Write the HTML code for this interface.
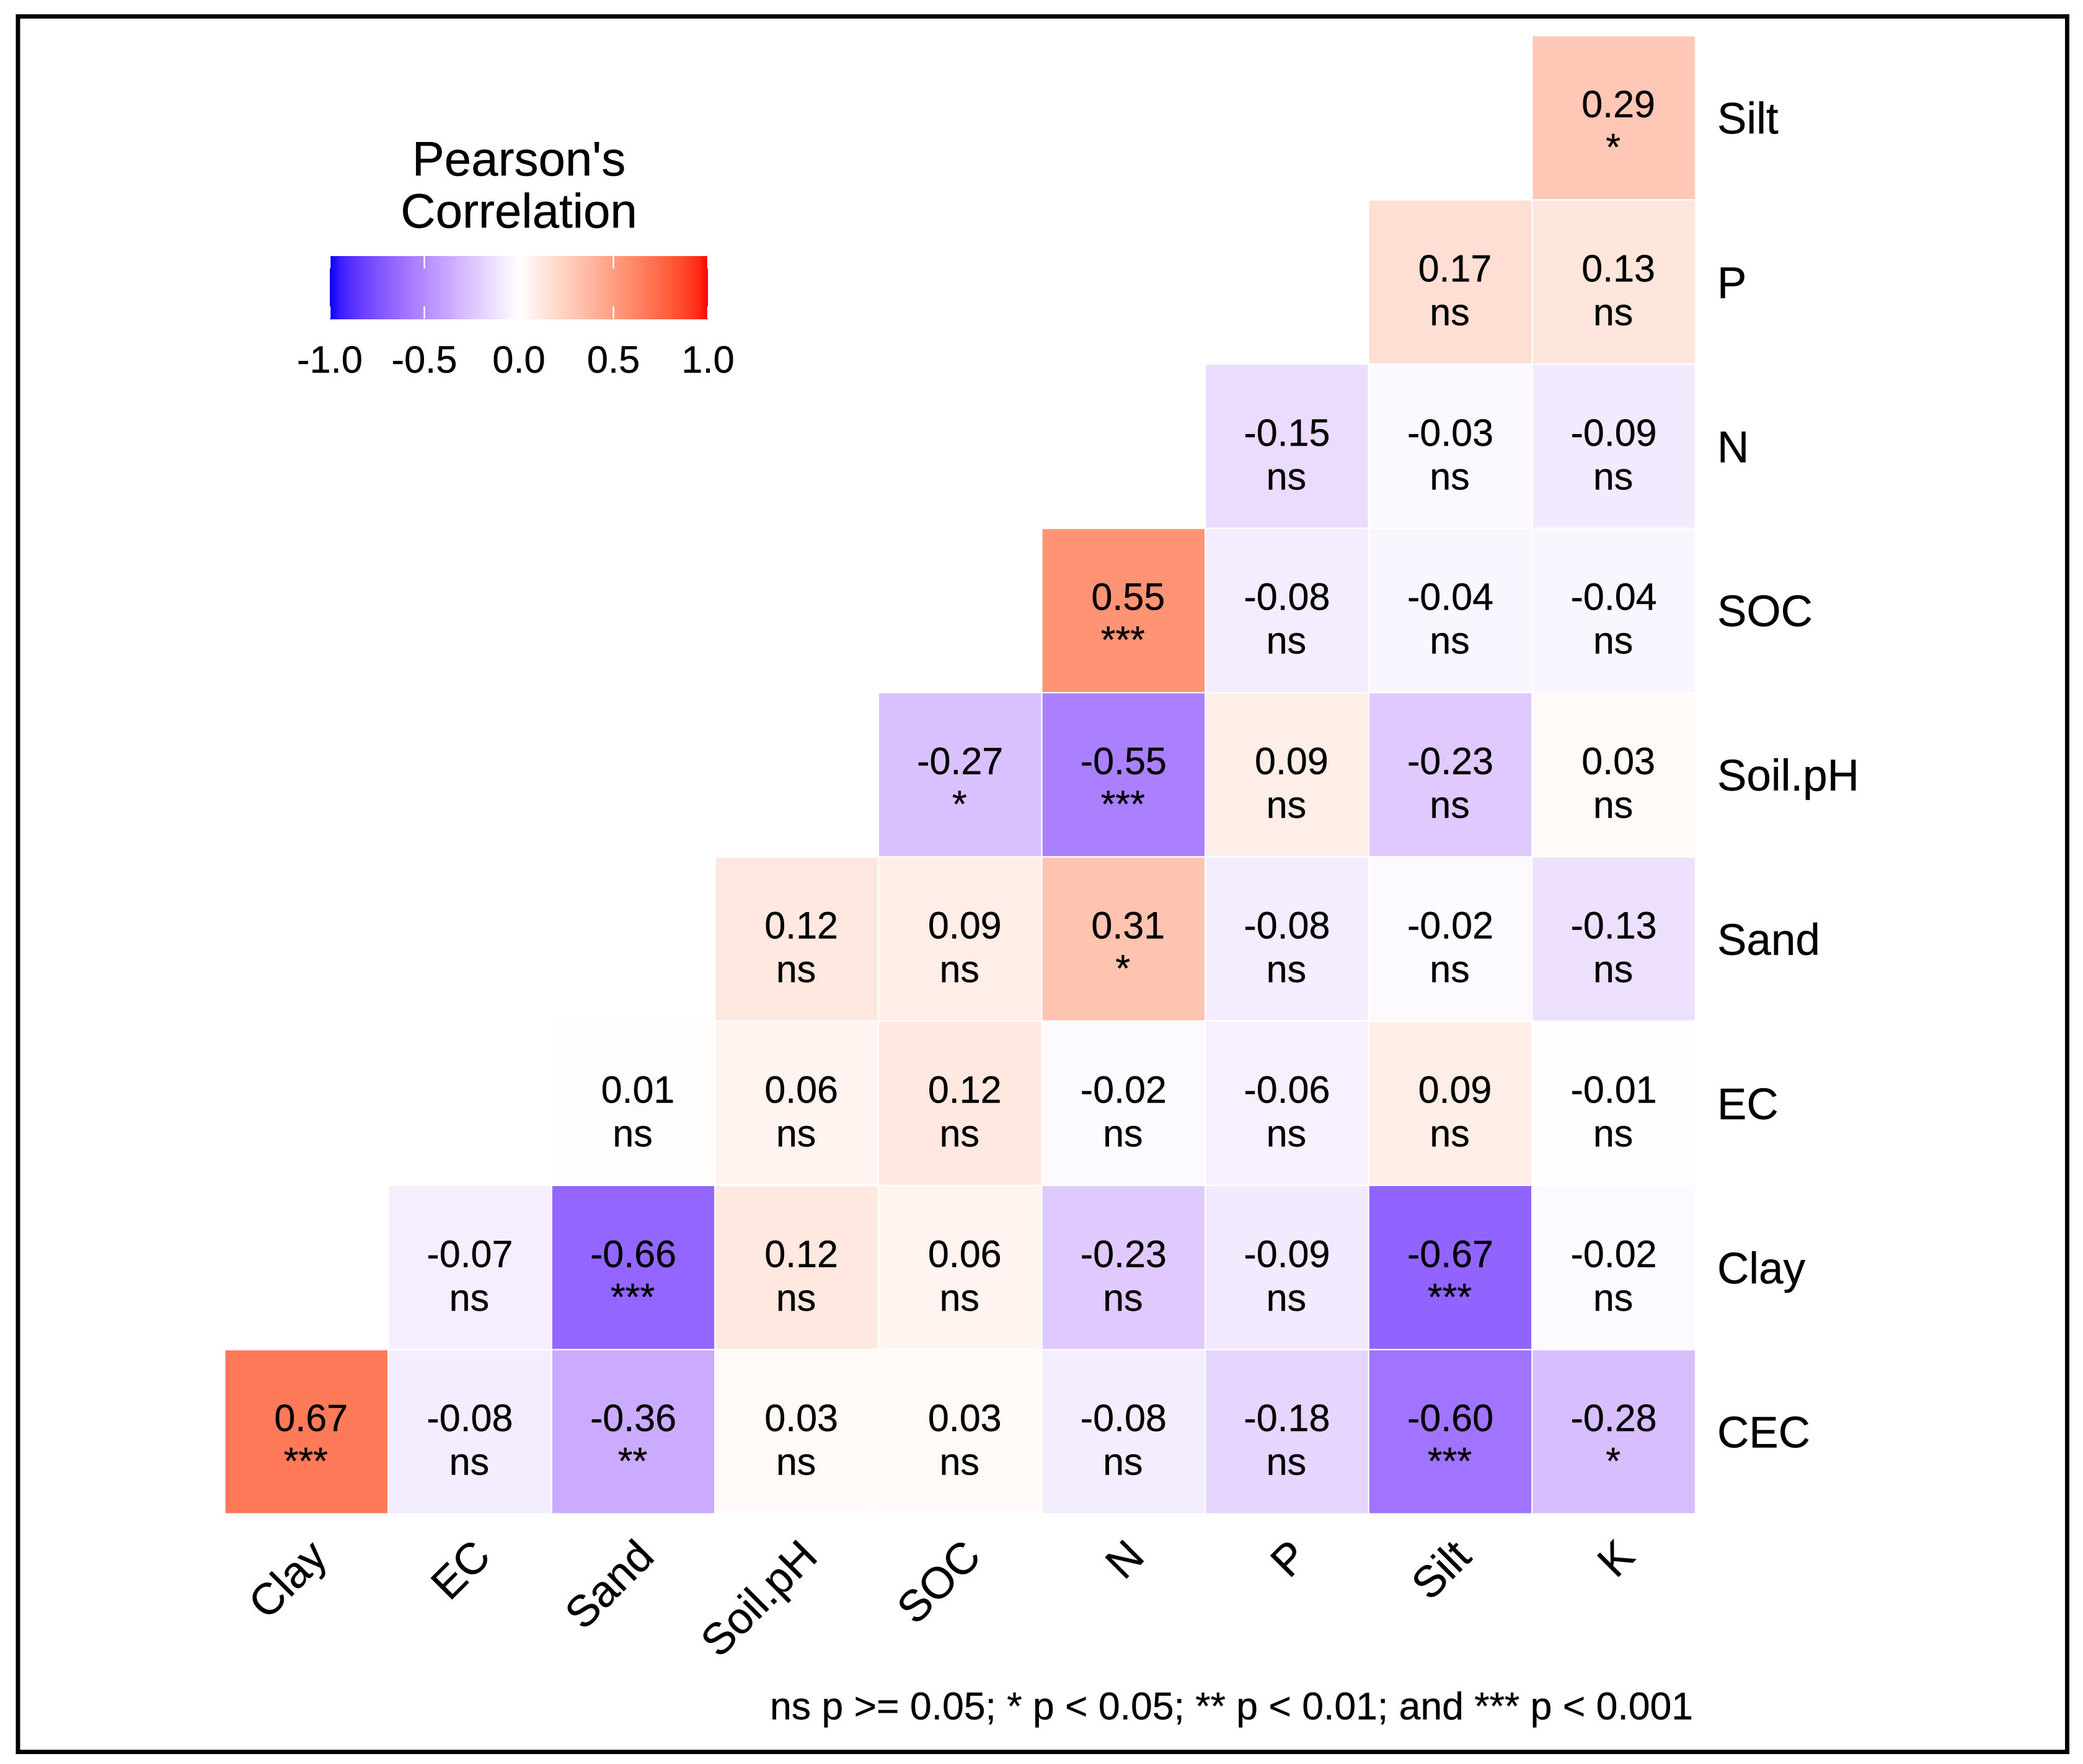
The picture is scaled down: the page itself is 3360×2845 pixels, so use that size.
<!DOCTYPE html>
<html lang="en">
<head>
<meta charset="utf-8">
<title>Pearson's Correlation Heatmap</title>
<style>
  html, body { margin: 0; padding: 0; background: #fff; }
  svg { display: block; }
  text { font-family: "Liberation Sans", sans-serif; fill: #000; stroke: #000; stroke-width: 0.4; }
</style>
</head>
<body>
<svg id="chart" xmlns="http://www.w3.org/2000/svg" width="3360" height="2845" viewBox="0 0 3360 2845">
  <rect x="0" y="0" width="3360" height="2845" fill="#fff"/>
  <rect x="29" y="26.5" width="3305.5" height="2799" fill="none" stroke="#000" stroke-width="7"/>
  <g id="cells"></g>
  <g id="x-labels"></g>
  <g id="y-labels"></g>
  <g id="legend">
    <defs>
      <linearGradient id="legend-gradient" x1="0" y1="0" x2="1" y2="0"></linearGradient>
    </defs>
    <text x="837" y="283" font-size="78" text-anchor="middle">Pearson's</text>
    <text x="837" y="367" font-size="78" text-anchor="middle">Correlation</text>
    <rect x="532" y="413" width="610" height="102" fill="url(#legend-gradient)"/>
  </g>
  <text x="2731" y="2773" font-size="62.5" text-anchor="end">ns p &gt;= 0.05; * p &lt; 0.05; ** p &lt; 0.01; and *** p &lt; 0.001</text>
</svg>
<script>
const xCategories = ["Clay", "EC", "Sand", "Soil.pH", "SOC", "N", "P", "Silt", "K"];
const yCategories = ["Silt", "P", "N", "SOC", "Soil.pH", "Sand", "EC", "Clay", "CEC"];
const correlations = [
  [null, null, null, null, null, null, null, null, 0.29],
  [null, null, null, null, null, null, null, 0.17, 0.13],
  [null, null, null, null, null, null, -0.15, -0.03, -0.09],
  [null, null, null, null, null, 0.55, -0.08, -0.04, -0.04],
  [null, null, null, null, -0.27, -0.55, 0.09, -0.23, 0.03],
  [null, null, null, 0.12, 0.09, 0.31, -0.08, -0.02, -0.13],
  [null, null, 0.01, 0.06, 0.12, -0.02, -0.06, 0.09, -0.01],
  [null, -0.07, -0.66, 0.12, 0.06, -0.23, -0.09, -0.67, -0.02],
  [0.67, -0.08, -0.36, 0.03, 0.03, -0.08, -0.18, -0.60, -0.28]
];
const significance = [
  [null, null, null, null, null, null, null, null, "*"],
  [null, null, null, null, null, null, null, "ns", "ns"],
  [null, null, null, null, null, null, "ns", "ns", "ns"],
  [null, null, null, null, null, "***", "ns", "ns", "ns"],
  [null, null, null, null, "*", "***", "ns", "ns", "ns"],
  [null, null, null, "ns", "ns", "*", "ns", "ns", "ns"],
  [null, null, "ns", "ns", "ns", "ns", "ns", "ns", "ns"],
  [null, "ns", "***", "ns", "ns", "ns", "ns", "***", "ns"],
  ["***", "ns", "**", "ns", "ns", "ns", "ns", "***", "*"]
];
const legendTicks = [-1, -0.5, 0, 0.5, 1];

const SVG_NS = "http://www.w3.org/2000/svg";
const LOW_LAB = [32.3, 79.2, -107.86];
const MID_LAB = [100, 0, 0];
const HIGH_LAB = [53.24, 80.09, 67.2];

function labToRgb(L, a, b) {
  const fy = (L + 16) / 116;
  const fx = fy + a / 500;
  const fz = fy - b / 200;
  const inv = t => (t > 6 / 29 ? t * t * t : 3 * (6 / 29) * (6 / 29) * (t - 4 / 29));
  const X = 0.95047 * inv(fx);
  const Y = inv(fy);
  const Z = 1.08883 * inv(fz);
  const lin = [
    3.2406 * X - 1.5372 * Y - 0.4986 * Z,
    -0.9689 * X + 1.8758 * Y + 0.0415 * Z,
    0.0557 * X - 0.204 * Y + 1.057 * Z
  ];
  const gamma = c => {
    const v = Math.min(1, Math.max(0, c));
    return v <= 0.0031308 ? 12.92 * v : 1.055 * Math.pow(v, 1 / 2.4) - 0.055;
  };
  return "rgb(" + lin.map(c => Math.round(gamma(c) * 255)).join(",") + ")";
}

function fillColor(v) {
  const t = Math.min(1, Math.abs(v));
  const end = v < 0 ? LOW_LAB : HIGH_LAB;
  return labToRgb(
    MID_LAB[0] + (end[0] - MID_LAB[0]) * t,
    MID_LAB[1] + (end[1] - MID_LAB[1]) * t,
    MID_LAB[2] + (end[2] - MID_LAB[2]) * t
  );
}

const plotLeft = 362.5;
const plotTop = 57.5;
const colWidth = 263.6;
const rowHeight = 264.9;
const xBand = i => plotLeft + colWidth * i;
const yBand = j => plotTop + rowHeight * j;
const legendX = v => 837 + v * 305;

function make(tag, attrs, parent, content) {
  const el = document.createElementNS(SVG_NS, tag);
  for (const k in attrs) el.setAttribute(k, attrs[k]);
  if (content !== undefined) el.textContent = content;
  parent.appendChild(el);
  return el;
}

const cellsGroup = document.getElementById("cells");
correlations.forEach((row, j) => {
  row.forEach((value, i) => {
    if (value === null) return;
    const slug = yCategories[j].toLowerCase().replace(".", "") + "-" + xCategories[i].toLowerCase().replace(".", "");
    const cx = xBand(i) + colWidth / 2;
    const cy = yBand(j) + rowHeight / 2;
    const rect = make("rect", { x: xBand(i), y: yBand(j), width: colWidth, height: rowHeight, fill: fillColor(value), stroke: "#fff", "stroke-width": 2.2 }, cellsGroup);
    
    
    const valueText = make("text", { x: value >= 0 ? cx + 7.5 : cx, y: cy - 1, "font-size": 61, "text-anchor": "middle" }, cellsGroup, value.toFixed(2));
    
    
    const sigLabel = significance[j][i];
    const sigText = make("text", { x: cx - 1, y: sigLabel === "ns" ? cy + 69.5 : cy + 68, "font-size": 61, "text-anchor": "middle" }, cellsGroup, sigLabel);
    
    
  });
});

const xLabelsGroup = document.getElementById("x-labels");
xCategories.forEach((name, i) => {
  const ax = xBand(i) + colWidth / 2 + 37;
  const ay = 2514;
  const label = make("text", { x: ax, y: ay, "font-size": 71, "text-anchor": "end", transform: "rotate(-45 " + ax + " " + ay + ")" }, xLabelsGroup, name);
  
  
});

const yLabelsGroup = document.getElementById("y-labels");
yCategories.forEach((name, j) => {
  const label = make("text", { x: 2770, y: yBand(j) + rowHeight / 2 + 25.5, "font-size": 71 }, yLabelsGroup, name);
  
  
});

const gradient = document.getElementById("legend-gradient");
for (let s = 0; s <= 40; s++) {
  const v = -1 + s / 20;
  make("stop", { offset: (s / 40), "stop-color": fillColor(v) }, gradient);
}

const legendGroup = document.getElementById("legend");
legendTicks.forEach(v => {
  const x = legendX(v);
  const tickTop = make("rect", { x: x - 1.2, y: 413, width: 2.4, height: 20, fill: "#fff" }, legendGroup);
  
  
  const tickBottom = make("rect", { x: x - 1.2, y: 494, width: 2.4, height: 20, fill: "#fff" }, legendGroup);
  
  
  const tickLabel = make("text", { x: x, y: 601, "font-size": 61.5, "text-anchor": "middle" }, legendGroup, v.toFixed(1));
  
  
});
</script>
</body>
</html>
